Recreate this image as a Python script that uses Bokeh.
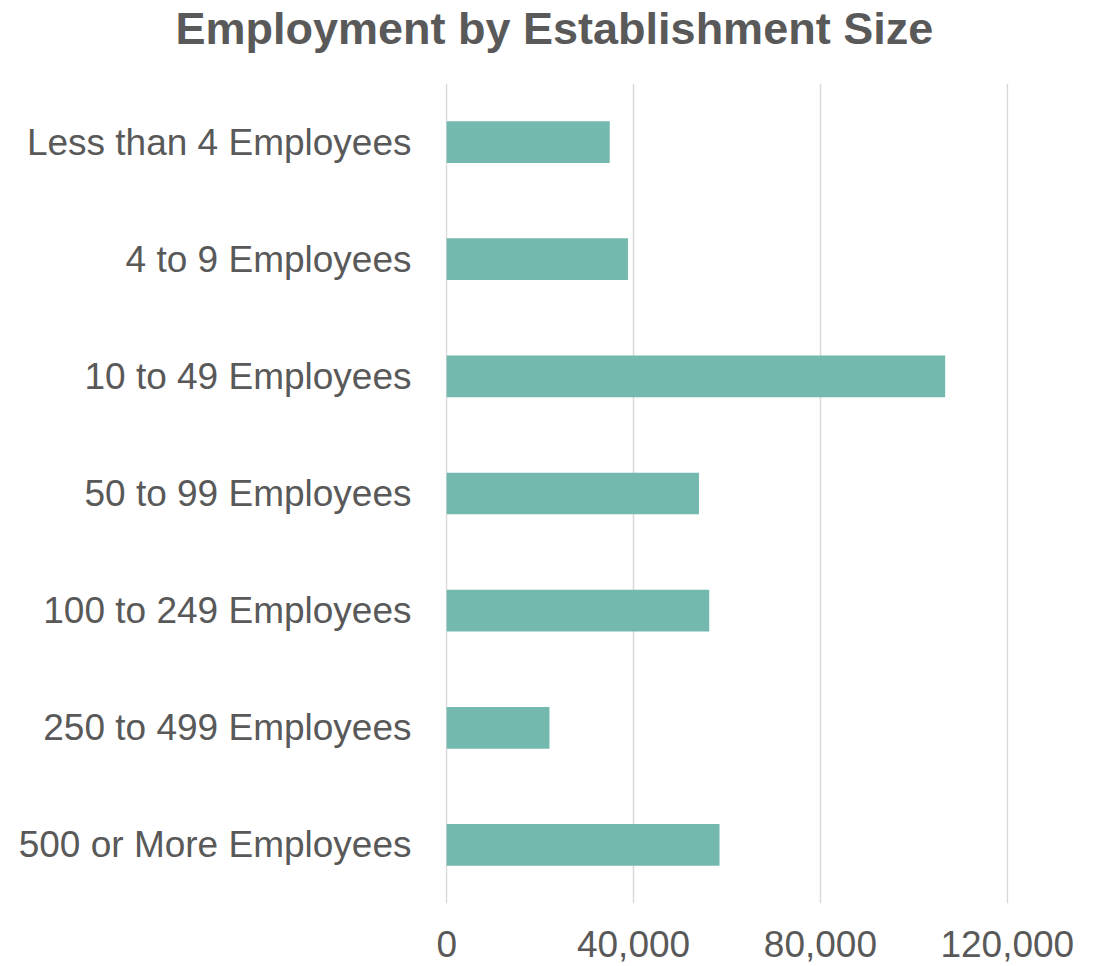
from bokeh.plotting import figure
from bokeh.models import Range1d, FixedTicker, NumeralTickFormatter, ColumnDataSource, Title
from bokeh.embed import file_html
from bokeh.resources import INLINE

categories = ["Less than 4 Employees", "4 to 9 Employees", "10 to 49 Employees",
              "50 to 99 Employees", "100 to 249 Employees", "250 to 499 Employees",
              "500 or More Employees"]
employment = [34900, 38800, 106700, 54000, 56200, 22000, 58400]
x_ticks = [0, 40000, 80000, 120000]
title_text = "Employment by Establishment Size"

TEXT = "#595959"
BAR = "#73B9AE"
FONT = "Liberation Sans"

src = ColumnDataSource(dict(cat=categories, val=employment))

p = figure(width=1101, height=966, output_backend="svg", toolbar_location=None,
           y_range=list(reversed(categories)), x_range=Range1d(-250, 120250),
           min_border_left=445, min_border_right=93, min_border_top=83,
           min_border_bottom=63)

p.hbar(y="cat", right="val", left=0, height=0.356, source=src,
       fill_color=BAR, line_color=None)

p.title.text = ""
spacer = Title(text=" ", text_font_size="10px", standoff=14)
main_title = Title(text=title_text, align="left", offset=-270, vertical_align="top",
                   standoff=2, text_font=FONT, text_font_style="bold",
                   text_font_size="45px", text_color=TEXT)
p.add_layout(spacer, "above")
p.add_layout(main_title, "above")

p.outline_line_color = None
p.ygrid.grid_line_color = None
p.xgrid.grid_line_color = "#D9D9D9"
p.xgrid.grid_line_width = 1.5
p.xgrid.level = "underlay"

p.xaxis.ticker = FixedTicker(ticks=x_ticks)
p.xaxis.formatter = NumeralTickFormatter(format="0,0")
for ax in (p.xaxis[0], p.yaxis[0]):
    ax.axis_line_color = None
    ax.major_tick_line_color = None
    ax.minor_tick_line_color = None
    ax.major_label_text_font = FONT
    ax.major_label_text_font_size = "37px"
    ax.major_label_text_color = TEXT
p.xaxis.major_label_standoff = 21
p.yaxis.major_label_standoff = 28

open("out.html", "w").write(file_html(p, INLINE))
